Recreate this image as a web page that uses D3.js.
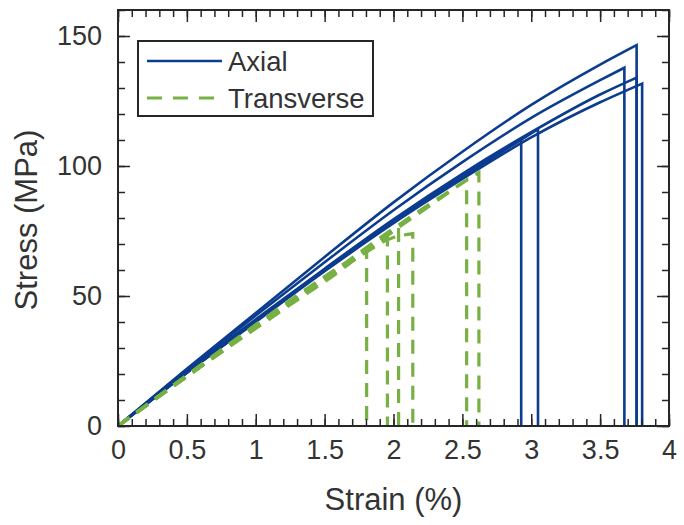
<!DOCTYPE html>
<html>
<head>
<meta charset="utf-8">
<script src="https://cdn.jsdelivr.net/npm/d3@7"></script>
<style>
  body { margin: 0; background: #fff; }
  text { font-family: "Liberation Sans", Arial, sans-serif; fill: #333; }
</style>
</head>
<body>
<svg id="chart" width="684" height="525"></svg>
<script>
// axial specimens: [strain %, stress MPa], last point is where it breaks
var axial1 = [[0,0],[0.5,22],[1,43.5],[1.5,65],[2,86],[2.5,105.5],[3,123.5],[3.5,139],[3.765,146.5]];
var axial2 = [[0,0],[0.5,21.5],[1,42.5],[1.5,63],[2,83],[2.5,101.5],[3,118.5],[3.5,133],[3.676,137.8]];
var axial3 = [[0,0],[0.5,21],[1,41],[1.5,60.5],[2,79.5],[2.5,97],[3,113],[3.5,127.5],[3.765,134]];
var axial4 = [[0,0],[0.5,20.5],[1,40],[1.5,59.5],[2,78],[2.5,95],[3,111],[3.5,124.5],[3.805,131.7]];
var axial5 = [[0,0],[0.5,20.5],[1,40.5],[1.5,60],[2,78.5],[2.5,96.5],[3,112.5],[3.049,114.2]];
var axial6 = [[0,0],[0.5,20.5],[1,40.5],[1.5,60],[2,78.5],[2.5,95.5],[2.927,110.2]];

// transverse specimens
var trans1 = [[0,0],[0.5,19.5],[1,38.5],[1.5,56.5],[1.805,67.5]];
var trans2 = [[0,0],[0.5,19.5],[1,38.5],[1.5,56.5],[1.956,72]];
var trans3 = [[0,0],[0.5,19.5],[1,39],[1.5,57.5],[2,75],[2.037,76.5]];
var trans4 = [[0,0],[0.5,19],[1,37.5],[1.5,55.5],[2,72.5],[2.14,74]];
var trans5 = [[0,0],[0.5,19],[1,38],[1.5,56.5],[2,75],[2.531,94.6]];
var trans6 = [[0,0],[0.5,19],[1,38],[1.5,57],[2,76],[2.5,93.5],[2.62,97.5]];

var xTicks = [0,0.5,1,1.5,2,2.5,3,3.5,4];
var yTicks = [0,50,100,150];
var legendLabels = ["Axial","Transverse"];

var blue = "#0c3c8f", green = "#77b143";

var margin = {top: 10, right: 15, bottom: 99, left: 118},
    width = 684 - margin.left - margin.right,
    height = 525 - margin.top - margin.bottom;

var svg = d3.select("#chart");
var g = svg.append("g").attr("transform","translate(" + margin.left + "," + margin.top + ")");

var x = d3.scaleLinear().domain([0,4]).range([0,width]);
var y = d3.scaleLinear().domain([0,160]).range([height,0]);

var line = d3.line()
    .x(function(d){ return x(d[0]); })
    .y(function(d){ return y(d[1]); })
    .curve(d3.curveMonotoneX);

// curve up to failure, then straight drop to zero
function specimenPath(d) {
  var last = d[d.length-1];
  return line(d) + "L" + x(last[0]) + "," + y(0);
}

g.append("defs").append("clipPath").attr("id","clip")
  .append("rect").attr("width",width).attr("height",height);

var plot = g.append("g").attr("clip-path","url(#clip)");

plot.selectAll(".axial")
    .data([axial1,axial2,axial3,axial4,axial5,axial6])
  .enter().append("path")
    .classed("axial",true)
    .attr("d",specimenPath)
    .attr("fill","none")
    .attr("stroke",blue)
    .attr("stroke-width",2.6)
    .attr("stroke-linejoin","miter");

plot.selectAll(".trans")
    .data([trans1,trans2,trans3,trans4,trans5,trans6])
  .enter().append("path")
    .classed("trans",true)
    .attr("d",specimenPath)
    .attr("fill","none")
    .attr("stroke",green)
    .attr("stroke-width",3.2)
    .attr("stroke-dasharray","14,9");

// ticks, all pointing inward on four sides
var xMinor = d3.range(0,4.0001,0.1).map(function(v){ return +v.toFixed(1); });
var yMinor = d3.range(0,160.1,10);

function styleAxis(sel) {
  sel.select(".domain").remove();
  sel.selectAll("line").attr("stroke","#262626").attr("stroke-width",1.5);
  sel.selectAll("text").style("font-size","27px").attr("fill","#333");
}

g.append("g").attr("transform","translate(0," + height + ")")
    .call(d3.axisBottom(x).tickValues(xMinor).tickSize(-7).tickFormat(""))
    .call(styleAxis);
g.append("g").attr("transform","translate(0," + height + ")")
    .call(d3.axisBottom(x).tickValues(xTicks).tickSize(-12).tickPadding(14).tickFormat(d3.format("~g")))
    .call(styleAxis);
g.append("g")
    .call(d3.axisTop(x).tickValues(xMinor).tickSize(-7).tickFormat(""))
    .call(styleAxis);
g.append("g")
    .call(d3.axisTop(x).tickValues(xTicks).tickSize(-12).tickFormat(""))
    .call(styleAxis);

g.append("g")
    .call(d3.axisLeft(y).tickValues(yMinor).tickSize(-7).tickFormat(""))
    .call(styleAxis);
g.append("g")
    .call(d3.axisLeft(y).tickValues(yTicks).tickSize(-12).tickPadding(16).tickFormat(d3.format("d")))
    .call(styleAxis);
g.append("g").attr("transform","translate(" + width + ",0)")
    .call(d3.axisRight(y).tickValues(yMinor).tickSize(-7).tickFormat(""))
    .call(styleAxis);
g.append("g").attr("transform","translate(" + width + ",0)")
    .call(d3.axisRight(y).tickValues(yTicks).tickSize(-12).tickFormat(""))
    .call(styleAxis);

g.append("rect")
    .attr("width",width).attr("height",height)
    .attr("fill","none").attr("stroke","#262626").attr("stroke-width",2);

// axis titles
g.append("text")
    .attr("x",width/2).attr("y",height + 84)
    .attr("text-anchor","middle")
    .style("font-size","31px")
    .text("Strain (%)");

g.append("text")
    .attr("transform","translate(" + (-81) + "," + (height/2 + 2) + ") rotate(-90)")
    .attr("text-anchor","middle")
    .style("font-size","31px")
    .text("Stress (MPa)");

// legend
var legend = g.append("g").attr("transform","translate(20,31)");
legend.append("rect")
    .attr("width",235).attr("height",75)
    .attr("fill","#fff").attr("stroke","#262626").attr("stroke-width",2);

var entry = legend.selectAll(".entry")
    .data(legendLabels)
  .enter().append("g")
    .classed("entry",true)
    .attr("transform",function(d,i){ return "translate(0," + (20 + i*37) + ")"; });

entry.append("line")
    .attr("x1",9).attr("x2",84)
    .attr("stroke",function(d,i){ return i ? green : blue; })
    .attr("stroke-width",function(d,i){ return i ? 3.2 : 2.6; })
    .attr("stroke-dasharray",function(d,i){ return i ? "15,11" : null; });

entry.append("text")
    .attr("x",90).attr("dy","0.35em")
    .style("font-size","27.5px")
    .text(function(d){ return d; });
</script>
</body>
</html>
